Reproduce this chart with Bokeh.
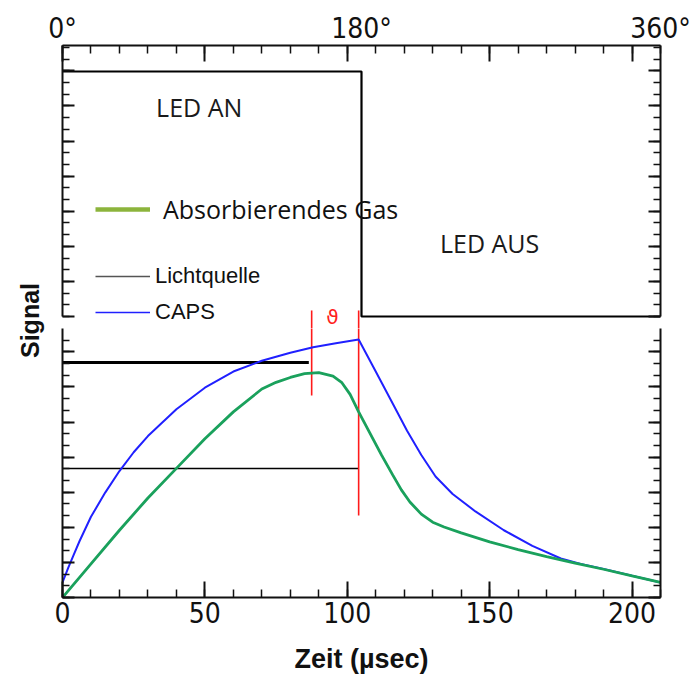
import numpy as np
from bokeh.plotting import figure
from bokeh.models import Range1d, LinearAxis, FixedTicker, Legend, LegendItem, Label
from bokeh.layouts import row, column
from bokeh.embed import file_html
from bokeh.resources import INLINE
from bokeh.core.properties import value

# ---------------- data ----------------
# CAPS signal (blue), time in microseconds, signal in panel units
caps_t = [0, 2, 4, 6, 10, 15, 20, 25, 30, 40, 50, 60, 70, 80, 88, 96, 104,
          110, 116, 121, 126, 131, 137, 145, 155, 165, 175, 182, 190, 200, 210]
caps_v = [0.056, 0.11, 0.16, 0.21, 0.30, 0.39, 0.47, 0.54, 0.60, 0.70, 0.78, 0.84, 0.88, 0.91, 0.93, 0.945, 0.959,
          0.84, 0.72, 0.62, 0.53, 0.45, 0.385, 0.32, 0.25, 0.192, 0.145, 0.125, 0.106, 0.081, 0.056]
# absorbing gas signal (green)
gas_t = [0, 10, 20, 30, 40, 50, 60, 70, 75, 80, 85, 90, 95, 98, 101, 104, 108, 112, 116, 119, 122, 126, 130, 134,
         140, 150, 160, 170, 180, 190, 200, 210]
gas_v = [0.0, 0.125, 0.25, 0.37, 0.48, 0.59, 0.69, 0.775, 0.80, 0.818, 0.832, 0.836, 0.823, 0.80, 0.755, 0.69,
         0.61, 0.53, 0.455, 0.40, 0.355, 0.31, 0.28, 0.262, 0.24, 0.207, 0.178, 0.152, 0.128, 0.105, 0.08, 0.056]
# light source reference levels (black horizontal lines)
src_v = [0.874, 0.48]
src_end_t = [86.5, 104]
src_width = [3, 1.5]
# phase markers (red vertical lines)
marker_t = [87.5, 104]
marker_bottom_v = [0.751, 0.305]
marker_top_v = 1.067
# LED square wave (top panel)
led_t = [0, 105, 105, 210]
led_v = [1, 1, 0, 0]
led_labels = ["LED AN", "LED AUS"]
led_label_t = [48, 150]
led_label_v = [0.857, 0.302]
# axes
phase_t = [0, 105, 210]
phase_labels = ["0°", "180°", "360°"]
time_ticks = [0, 50, 100, 150, 200]
time_minor = list(range(0, 211, 10))

# ---------------- geometry ----------------
TOP_PX = 245.0      # px per unit in top panel
BOT_PX = 269.0      # px per unit in bottom panel
top_start = -12.0 / TOP_PX
top_end = 271.0 / TOP_PX

NARROW = "Liberation Sans Narrow, DejaVu Sans Condensed, sans-serif"
AX_COLOR = "#111111"

xr = Range1d(0, 210)

def base_fig(w, h, yr, **kw):
    f = figure(width=w, height=h, x_range=xr, y_range=yr, output_backend="svg",
               toolbar_location=None, x_axis_location=None, y_axis_location=None, **kw)
    f.outline_line_color = None
    f.grid.visible = False
    f.background_fill_color = "white"
    f.border_fill_color = "white"
    return f

def tick_axis(ticks, minors, major_in, minor_in, bounds=None):
    ax = LinearAxis(ticker=FixedTicker(ticks=ticks, minor_ticks=minors))
    ax.major_label_text_font_size = "1px"
    ax.major_label_text_color = None
    ax.major_label_standoff = 0
    ax.major_tick_in = major_in
    ax.major_tick_out = 0
    ax.minor_tick_in = minor_in
    ax.minor_tick_out = 0
    ax.axis_line_width = 2
    ax.axis_line_color = AX_COLOR
    ax.major_tick_line_width = 2
    ax.minor_tick_line_width = 1.5
    ax.major_tick_line_color = AX_COLOR
    ax.minor_tick_line_color = AX_COLOR
    if bounds is not None:
        ax.bounds = bounds
    return ax

# ---------------- top panel ----------------
top = base_fig(648, 328, Range1d(top_start, top_end),
               min_border_left=17, min_border_right=33, min_border_top=45, min_border_bottom=0)

yt_minor = list(np.arange(0, top_end + 1e-6, 11.7 / TOP_PX))
yt_major = yt_minor[::3]
top.add_layout(tick_axis(yt_major, yt_minor, 12, 7, bounds=(0, top_end)), "left")
top.add_layout(tick_axis(yt_major, yt_minor, 12, 7, bounds=(0, top_end)), "right")
top.add_layout(tick_axis(time_ticks, time_minor, 16, 8), "above")
lab_ax = LinearAxis(ticker=FixedTicker(ticks=phase_t, minor_ticks=[]),
                    major_label_overrides={t: s for t, s in zip(phase_t, phase_labels)})
lab_ax.axis_line_color = None
lab_ax.major_tick_in = 0
lab_ax.major_tick_out = 0
lab_ax.minor_tick_in = 0
lab_ax.minor_tick_out = 0
lab_ax.major_label_standoff = 1
lab_ax.major_label_text_font = NARROW
lab_ax.major_label_text_font_size = "28px"
lab_ax.major_label_text_color = "#111111"
top.add_layout(lab_ax, "above")

top.line(led_t, led_v, line_color="black", line_width=2.2)
top.text(x=led_label_t, y=led_label_v, text=led_labels, text_font=value("Open Sans"),
         text_font_size="25px", text_align="center", text_baseline="middle", text_color="#1a1a1a")

# red marker parts above the lower panel
top_marker_end = top_start + (marker_top_v - 1.0) * BOT_PX / TOP_PX
top.segment(x0=marker_t, y0=[top_start] * len(marker_t), x1=marker_t,
            y1=[top_marker_end] * len(marker_t), line_color="#ff1a1a", line_width=1.6)

top.add_layout(Label(x=94.8, y=0.0, text="ϑ", text_color="#ff2020", text_font_size="20px",
                     text_font="DejaVu Sans", text_align="center", text_baseline="middle"))

# legend keys (stand-in renderers, styled like the hand-made legend)
k_gas = top.line([np.nan], [np.nan], line_color="#8cb43c", line_width=4.5)
k_src = top.line([np.nan], [np.nan], line_color="#555555", line_width=1.6)
k_caps = top.line([np.nan], [np.nan], line_color="#2020ff", line_width=1.6)

def make_legend(label, rend, loc, font, size, standoff):
    lg = Legend(items=[LegendItem(label=label, renderers=[rend], index=0)], location=loc)
    lg.orientation = "vertical"
    lg.padding = 0
    lg.margin = 0
    lg.spacing = 0
    lg.border_line_color = None
    lg.background_fill_alpha = 0
    lg.glyph_width = 55
    lg.glyph_height = 20
    lg.label_height = 20
    lg.label_standoff = standoff
    lg.label_text_font = font
    lg.label_text_font_size = size
    lg.label_text_color = "#111111"
    lg.label_text_baseline = "middle"
    return lg

top.add_layout(make_legend("Absorbierendes Gas", k_gas, (33, 102), "Open Sans", "25px", 13))
top.add_layout(make_legend("Lichtquelle", k_src, (33, 39), "Liberation Sans", "22px", 5))
top.add_layout(make_legend("CAPS", k_caps, (33, 3), "Liberation Sans", "22px", 5))

# ---------------- bottom panel ----------------
bot = base_fig(648, 354, Range1d(0, 1),
               min_border_left=17, min_border_right=33, min_border_top=0, min_border_bottom=85)

yb_minor = list(np.arange(0, 1 + 1e-6, 11.7 / BOT_PX))
yb_major = yb_minor[::3]
bot.add_layout(tick_axis(yb_major, yb_minor, 12, 7), "left")
bot.add_layout(tick_axis(yb_major, yb_minor, 12, 7), "right")

xb = LinearAxis(ticker=FixedTicker(ticks=time_ticks, minor_ticks=time_minor), axis_label="Zeit (µsec)")
xb.axis_line_width = 2
xb.axis_line_color = AX_COLOR
xb.major_tick_in = 16
xb.major_tick_out = 0
xb.minor_tick_in = 8
xb.minor_tick_out = 0
xb.major_tick_line_width = 2
xb.minor_tick_line_width = 1.5
xb.major_tick_line_color = AX_COLOR
xb.minor_tick_line_color = AX_COLOR
xb.major_label_standoff = 4
xb.major_label_text_font = NARROW
xb.major_label_text_font_size = "28px"
xb.major_label_text_color = "#111111"
xb.axis_label_standoff = 18
xb.axis_label_text_font = "Liberation Sans"
xb.axis_label_text_font_style = "bold"
xb.axis_label_text_font_size = "27px"
xb.axis_label_text_color = "#111111"
bot.add_layout(xb, "below")

for v, e, w in zip(src_v, src_end_t, src_width):
    bot.line([0, e], [v, v], line_color="black", line_width=w)

bot.segment(x0=marker_t, y0=marker_bottom_v, x1=marker_t, y1=[marker_top_v] * len(marker_t),
            line_color="#ff1a1a", line_width=1.6)
bot.line(caps_t, caps_v, line_color="#2020ff", line_width=2)
bot.line(gas_t, gas_v, line_color="#1aa15c", line_width=2.8)

# ---------------- y label strip ----------------
sig = figure(width=45, height=682, x_range=Range1d(0, 1), y_range=Range1d(0, 1),
             output_backend="svg", toolbar_location=None, x_axis_location=None, y_axis_location=None,
             min_border=0)
sig.outline_line_color = None
sig.grid.visible = False
sig.add_layout(Label(x=29, y=362, x_units="screen", y_units="screen", text="Signal", angle=np.pi / 2,
                     text_font="Liberation Sans", text_font_style="bold", text_font_size="25px",
                     text_align="center", text_baseline="middle", text_color="#111111"))

layout = row(sig, column(top, bot, spacing=0), spacing=0)
open("out.html", "w").write(file_html(layout, INLINE))
